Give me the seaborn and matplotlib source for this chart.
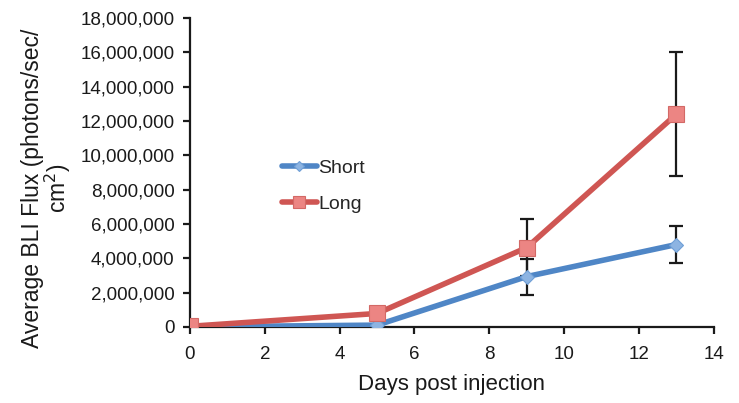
import matplotlib
matplotlib.use("Agg")
import matplotlib.pyplot as plt
import seaborn as sns
import pandas as pd
from matplotlib.ticker import FuncFormatter
from matplotlib.lines import Line2D

days = [0, 5, 9, 13]
short_vals = [0, 100000, 2930000, 4800000]
short_err = [0, 0, 1050000, 1080000]
long_vals = [30000, 780000, 4620000, 12400000]
long_err = [0, 0, 1650000, 3600000]
series = ["Short", "Long"]

df = pd.DataFrame({
    "day": days * 2,
    "flux": short_vals + long_vals,
    "group": [series[0]] * 4 + [series[1]] * 4,
})

sns.set_theme(style="white")
plt.rcParams["font.family"] = ["Liberation Sans", "DejaVu Sans"]

fig = plt.figure(figsize=(7.39, 4.03), dpi=100)
ax = fig.add_axes([0.257, 0.189, 0.709, 0.766])

blue_line = "#4f86c6"
red_line = "#cf5653"
blue_face = "#8db4e2"
red_face = "#ec8583"
blue_edge = "#6f9fd6"
red_edge = "#d36966"

ax.errorbar(days, short_vals, yerr=short_err, fmt="none", ecolor="#1a1a1a",
            elinewidth=1.6, capsize=5, capthick=1.6, zorder=2)
ax.errorbar(days, long_vals, yerr=long_err, fmt="none", ecolor="#1a1a1a",
            elinewidth=1.6, capsize=5, capthick=1.6, zorder=2)

sns.lineplot(data=df, x="day", y="flux", hue="group", style="group",
             palette={"Short": blue_line, "Long": red_line},
             markers={"Short": "D", "Long": "s"}, dashes=False,
             linewidth=4.0, ax=ax, zorder=3, legend=False)

for line in ax.lines:
    m = line.get_marker()
    if m == "D":
        line.set_markersize(7.6)
        line.set_markerfacecolor(blue_face)
        line.set_markeredgecolor(blue_edge)
        line.set_markeredgewidth(0.8)
    elif m == "s":
        line.set_markersize(11.0)
        line.set_markerfacecolor(red_face)
        line.set_markeredgecolor(red_edge)
        line.set_markeredgewidth(0.8)

handles = [
    Line2D([], [], color=blue_line, lw=4.0, marker="D", markersize=5.5,
           markerfacecolor=blue_face, markeredgecolor=blue_edge, markeredgewidth=0.8),
    Line2D([], [], color=red_line, lw=4.0, marker="s", markersize=8.5,
           markerfacecolor=red_face, markeredgecolor=red_edge, markeredgewidth=0.8),
]
ax.legend(handles, series, loc="upper left", bbox_to_anchor=(0.16, 0.567),
          frameon=False, fontsize=14, handlelength=1.8, handletextpad=0.1,
          labelspacing=0.95, borderaxespad=0)

ax.set_xlim(0, 14)
ax.set_ylim(0, 18000000)
ax.set_xticks(range(0, 15, 2))
ax.set_yticks(range(0, 18000001, 2000000))
ax.yaxis.set_major_formatter(FuncFormatter(lambda v, p: f"{int(v):,}"))

for s in ["top", "right"]:
    ax.spines[s].set_visible(False)
for s in ["left", "bottom"]:
    ax.spines[s].set_color("#1a1a1a")
    ax.spines[s].set_linewidth(1.6)

ax.tick_params(axis="both", which="major", direction="out", length=5, width=1.6,
               color="#1a1a1a", labelsize=13.5, labelcolor="#1a1a1a",
               bottom=True, left=True)
ax.tick_params(axis="y", pad=6)
ax.tick_params(axis="x", pad=9)

ax.set_xlabel("Days post injection", fontsize=16, color="#1a1a1a", labelpad=8)
ax.set_ylabel("Average BLI Flux (photons/sec/\ncm$^{2}$)", fontsize=16.5,
              color="#1a1a1a", linespacing=0.95)
ax.yaxis.set_label_coords(-0.224, 0.45)

fig.savefig("out.png", dpi=100)
